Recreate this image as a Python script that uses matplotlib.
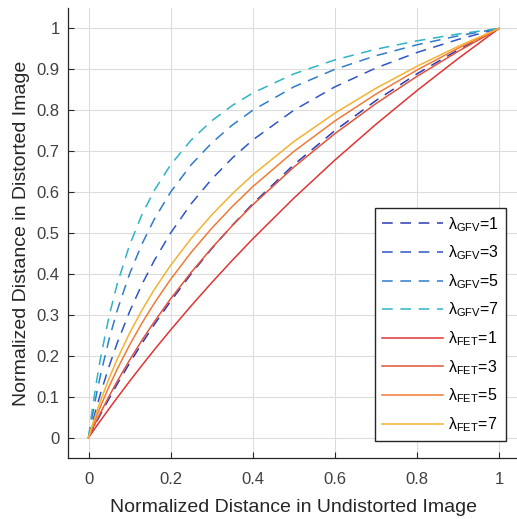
import matplotlib
matplotlib.use("Agg")
import matplotlib.pyplot as plt

plt.rcParams['font.family'] = ['Liberation Sans', 'DejaVu Sans']
plt.rcParams['mathtext.fontset'] = 'custom'
plt.rcParams['mathtext.rm'] = 'Liberation Sans'
plt.rcParams['mathtext.it'] = 'Liberation Sans:italic'

x = [0, 0.01, 0.02, 0.03, 0.05, 0.07, 0.1, 0.13, 0.16, 0.2, 0.25, 0.3,
     0.35, 0.4, 0.5, 0.6, 0.7, 0.8, 0.9, 1.0]

gfv_1 = [0, 0.01980, 0.03922, 0.05825, 0.09524, 0.13084, 0.18182, 0.23009,
         0.27586, 0.33333, 0.40000, 0.46154, 0.51852, 0.57143, 0.66667,
         0.75000, 0.82353, 0.88889, 0.94737, 1.0]
gfv_3 = [0, 0.03883, 0.07547, 0.11009, 0.17391, 0.23140, 0.30769, 0.37410,
         0.43243, 0.50000, 0.57143, 0.63158, 0.68293, 0.72727, 0.80000,
         0.85714, 0.90323, 0.94118, 0.97297, 1.0]
gfv_5 = [0, 0.05714, 0.10909, 0.15652, 0.24000, 0.31111, 0.40000, 0.47273,
         0.53333, 0.60000, 0.66667, 0.72000, 0.76364, 0.80000, 0.85714,
         0.90000, 0.93333, 0.96000, 0.98182, 1.0]
gfv_7 = [0, 0.07477, 0.14035, 0.19835, 0.29630, 0.37584, 0.47059, 0.54450,
         0.60377, 0.66667, 0.72727, 0.77419, 0.81159, 0.84211, 0.88889,
         0.92308, 0.94915, 0.96970, 0.98630, 1.0]
fet_1 = [0, 0.014355, 0.028569, 0.042644, 0.070389, 0.097611, 0.137504,
         0.176323, 0.214125, 0.263034, 0.321928, 0.378512, 0.432959,
         0.485427, 0.584963, 0.678072, 0.765535, 0.847997, 0.925999, 1.0]
fet_3 = [0, 0.021322, 0.042032, 0.062164, 0.100817, 0.137503, 0.189256,
         0.237542, 0.282798, 0.339036, 0.403677, 0.463000, 0.517812,
         0.568752, 0.660964, 0.742713, 0.816134, 0.882767, 0.943762, 1.0]
fet_5 = [0, 0.027230, 0.053193, 0.078003, 0.124538, 0.167491, 0.226294,
         0.279487, 0.328049, 0.386853, 0.452590, 0.511392, 0.564584,
         0.613147, 0.699180, 0.773706, 0.839442, 0.898244, 0.951437, 1.0]
fet_7 = [0, 0.032537, 0.063011, 0.091669, 0.144320, 0.191771, 0.255178,
         0.311191, 0.361355, 0.421012, 0.486478, 0.544090, 0.595533,
         0.641999, 0.723308, 0.792837, 0.853571, 0.907488, 0.955964, 1.0]

gfv_series = [gfv_1, gfv_3, gfv_5, gfv_7]
fet_series = [fet_1, fet_3, fet_5, fet_7]
lambdas = [1, 3, 5, 7]
gfv_colors = ['#2a3ab8', '#2f55c6', '#2f7cca', '#2fb3c6']
fet_colors = ['#e23434', '#e2543a', '#f07a36', '#f4b232']

ticks = [0, 0.2, 0.4, 0.6, 0.8, 1]
tick_labels = ['0', '0.2', '0.4', '0.6', '0.8', '1']
yticks = [0, 0.1, 0.2, 0.3, 0.4, 0.5, 0.6, 0.7, 0.8, 0.9, 1]
ytick_labels = ['0', '0.1', '0.2', '0.3', '0.4', '0.5', '0.6', '0.7', '0.8', '0.9', '1']

fig = plt.figure(figsize=(5.17, 5.19), dpi=100)
ax = fig.add_axes([68/517, 1 - 458/519, (519.5 - 68)/517, (458 - 8)/519])

for ys, c, lam in zip(gfv_series, gfv_colors, lambdas):
    ax.plot(x, ys, color=c, lw=1.1, dashes=(7, 5),
            label='λ$_{\\mathrm{GFV}}$=%d' % lam)
for ys, c, lam in zip(fet_series, fet_colors, lambdas):
    ax.plot(x, ys, color=c, lw=1.1, label='λ$_{\\mathrm{FET}}$=%d' % lam)

ax.set_xlim(-0.05, 1.05)
ax.set_ylim(-0.05, 1.05)
ax.set_xticks(ticks)
ax.set_xticklabels(tick_labels)
ax.set_yticks(yticks)
ax.set_yticklabels(ytick_labels)
ax.grid(True, color='#dcdcdc', lw=0.8)
ax.set_axisbelow(True)
for s in ['top', 'right']:
    ax.spines[s].set_visible(False)
for s in ['left', 'bottom']:
    ax.spines[s].set_color('#262626')
    ax.spines[s].set_linewidth(0.9)
ax.tick_params(direction='in', length=4, width=0.8, labelsize=12,
               colors='#262626', labelcolor='#404040')
ax.tick_params(axis='x', pad=10)
ax.tick_params(axis='y', pad=6)
ax.set_xlabel('Normalized Distance in Undistorted Image', fontsize=14,
              color='#262626', labelpad=9)
ax.set_ylabel('Normalized Distance in Distorted Image', fontsize=14,
              color='#262626', labelpad=5)

leg = ax.legend(loc='lower right', bbox_to_anchor=(506/517, 1 - 441/519),
                bbox_transform=fig.transFigure, fontsize=11.5,
                handlelength=3.8, handletextpad=0.3, labelspacing=0.62,
                borderpad=0.45, borderaxespad=0, fancybox=False,
                framealpha=1, edgecolor='#262626')
leg.get_frame().set_linewidth(1.0)

fig.savefig('out.png', dpi=100)
